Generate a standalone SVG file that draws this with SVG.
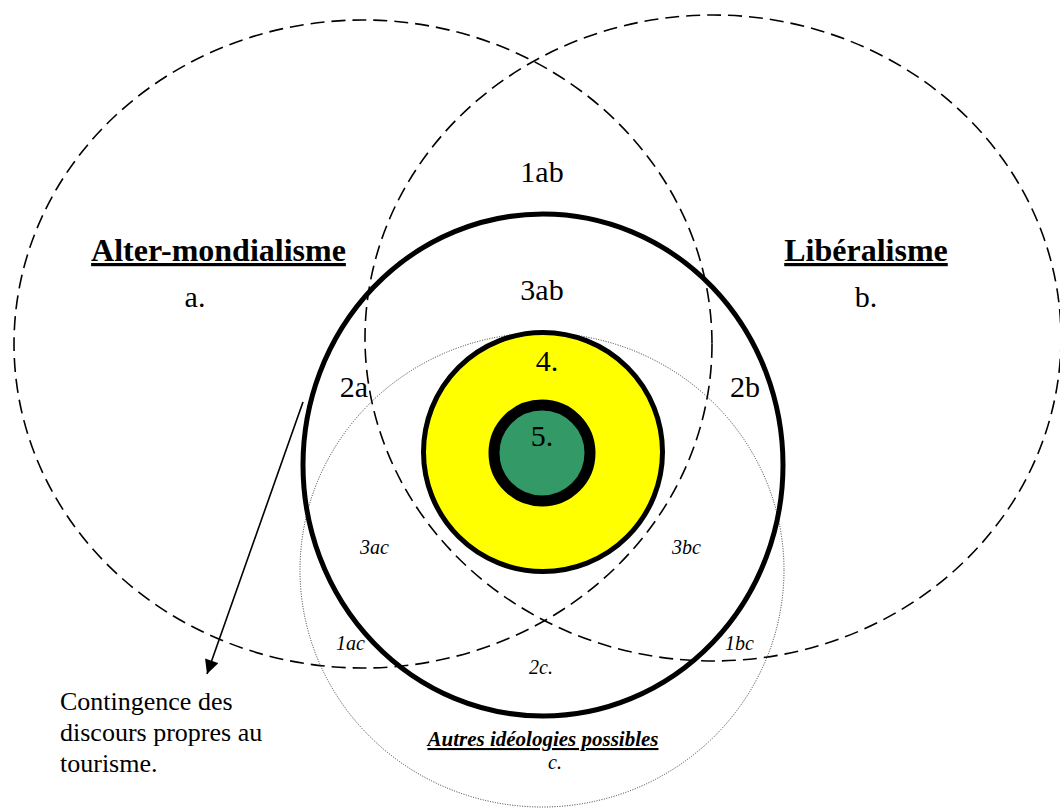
<svg xmlns="http://www.w3.org/2000/svg" width="1060" height="808" viewBox="0 0 1060 808">
  <style>
    .dash { fill: none; stroke: #000; stroke-width: 1.6; stroke-dasharray: 14 7; }
    .dot { fill: none; stroke: #333; stroke-width: 1; stroke-dasharray: 1 1.5; }
    .bold { fill: none; stroke: #000; stroke-width: 5; }
    .t { font-family: "Liberation Serif", "Times New Roman", serif; fill: #000; }
    .big { font-size: 30px; text-anchor: middle; }
    .title { font-size: 32px; font-weight: bold; text-anchor: middle; text-decoration: underline; }
    .it { font-size: 20px; font-style: italic; }
  </style>
  <defs>
    <marker id="ah" viewBox="0 0 10 10" refX="10" refY="5" markerWidth="16" markerHeight="14" markerUnits="userSpaceOnUse" orient="auto">
      <path d="M0,0 L10,5 L0,10 Z" fill="#000"/>
    </marker>
  </defs>
  <rect width="1060" height="808" fill="#fff"/>

  <g id="set-a">
    <ellipse class="dash" cx="363" cy="344" rx="349" ry="324"/>
  </g>
  <g id="set-b">
    <ellipse class="dash" cx="713" cy="338" rx="348" ry="323"/>
  </g>
  <g id="set-c">
    <ellipse class="dot" cx="542" cy="570" rx="242" ry="237"/>
  </g>
  <g id="ring-3">
    <ellipse class="bold" cx="543" cy="465" rx="240" ry="251"/>
  </g>
  <g id="ring-4">
    <circle cx="543" cy="452" r="119.5" fill="#ffff00" stroke="#000" stroke-width="5"/>
  </g>
  <g id="ring-5">
    <circle cx="542" cy="453" r="48" fill="#339966" stroke="#000" stroke-width="11"/>
  </g>

  <g id="connectors">
    <line x1="303" y1="402" x2="207" y2="674" stroke="#000" stroke-width="1.6" marker-end="url(#ah)"/>
  </g>

  <g id="labels" class="t">
    <text class="title" x="218.5" y="261">Alter-mondialisme</text>
    <text class="title" x="866" y="261">Libéralisme</text>
    <text class="big" x="195" y="307">a.</text>
    <text class="big" x="866" y="307">b.</text>
    <text class="big" x="542" y="182">1ab</text>
    <text class="big" x="542" y="300">3ab</text>
    <text class="big" x="547" y="371">4.</text>
    <text class="big" x="542" y="446">5.</text>
    <text class="big" x="354" y="397">2a</text>
    <text class="big" x="745" y="397">2b</text>
    <text class="it" x="360" y="554">3ac</text>
    <text class="it" x="672" y="554">3bc</text>
    <text class="it" x="336" y="650">1ac</text>
    <text class="it" x="725" y="650">1bc</text>
    <text class="it" x="529" y="674">2c.</text>
    <text x="543" y="746" style="font-size:21px;font-weight:bold;font-style:italic;text-anchor:middle;text-decoration:underline">Autres idéologies possibles</text>
    <text class="it" x="548" y="769">c.</text>
    <text x="60" y="710" style="font-size:26px">Contingence des</text>
    <text x="60" y="741" style="font-size:26px">discours propres au</text>
    <text x="60" y="772" style="font-size:26px">tourisme.</text>
  </g>
</svg>
